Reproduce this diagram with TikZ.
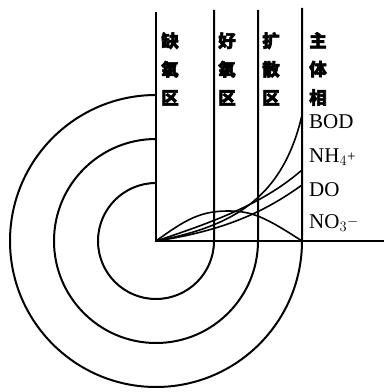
\documentclass[tikz,border=0pt]{standalone}
\usepackage{fontspec}
\setmainfont{Liberation Serif}
\newfontfamily\cjk[FakeBold=3]{Noto Sans CJK SC}
\usepackage{tikz}
\usetikzlibrary{positioning,calc}

\begin{document}
\begin{tikzpicture}[x=1pt, y=1pt,
    wall/.style={line width=2pt, draw=black},
    curve/.style={line width=1.6pt, draw=black},
    zone/.style={font=\cjk\bfseries\fontsize{17.5}{28.5}\selectfont, align=center, inner sep=0pt},
    lbl/.style={font=\fontsize{21}{21}\selectfont, anchor=west, inner sep=0pt}
]
\useasboundingbox (0,0) rectangle (384,392);
\coordinate (o) at (156,151);
\coordinate (ax) at (384,151);
% zones: arc round the core, then wall up
\draw[wall] (156,380) -- (o) -- (ax);
\draw[wall] (156,209) arc[start angle=90, end angle=360, radius=58] -- (214,382);
\draw[wall] (156,253) arc[start angle=90, end angle=360, radius=102] -- (258,382);
\draw[wall] (156,297) arc[start angle=90, end angle=360, radius=146] -- (302,384);

\node[zone] (anox) at (170,323) {缺\\氧\\区};
\node[zone] (oxic) at (227,323) {好\\氧\\区};
\node[zone] (diff) at (271,323) {扩\\散\\区};
\node[zone] (bulk) at (318,323) {主\\体\\相};

% concentration profiles
\coordinate (bodend) at (302,277);
\coordinate (nhend) at (302,222);
\coordinate (doend) at (302,207);
\coordinate (noend) at (302,151);
\draw[curve] (o) .. controls (228,165) and (282,190) .. (bodend);
\draw[curve] (o) .. controls (220,172) and (265,190) .. (nhend);
\draw[curve] (o) .. controls (230,162) and (270,184) .. (doend);
\draw[curve] (o) .. controls (185,172) and (200,181) .. (228,181)
    .. controls (252,181) and (265,175) .. (noend);

\node[lbl] (bod) at (309,270) {BOD};
\node[lbl] (nh) at (309,235) {NH$_4$\raisebox{1pt}{\fontsize{15}{15}\selectfont +}};
\node[lbl] (do) at (309,202) {DO};
\node[lbl] (no) at (309,169) {NO$_3$\raisebox{3pt}{\fontsize{15}{15}\selectfont $-$}};
\end{tikzpicture}
\end{document}
